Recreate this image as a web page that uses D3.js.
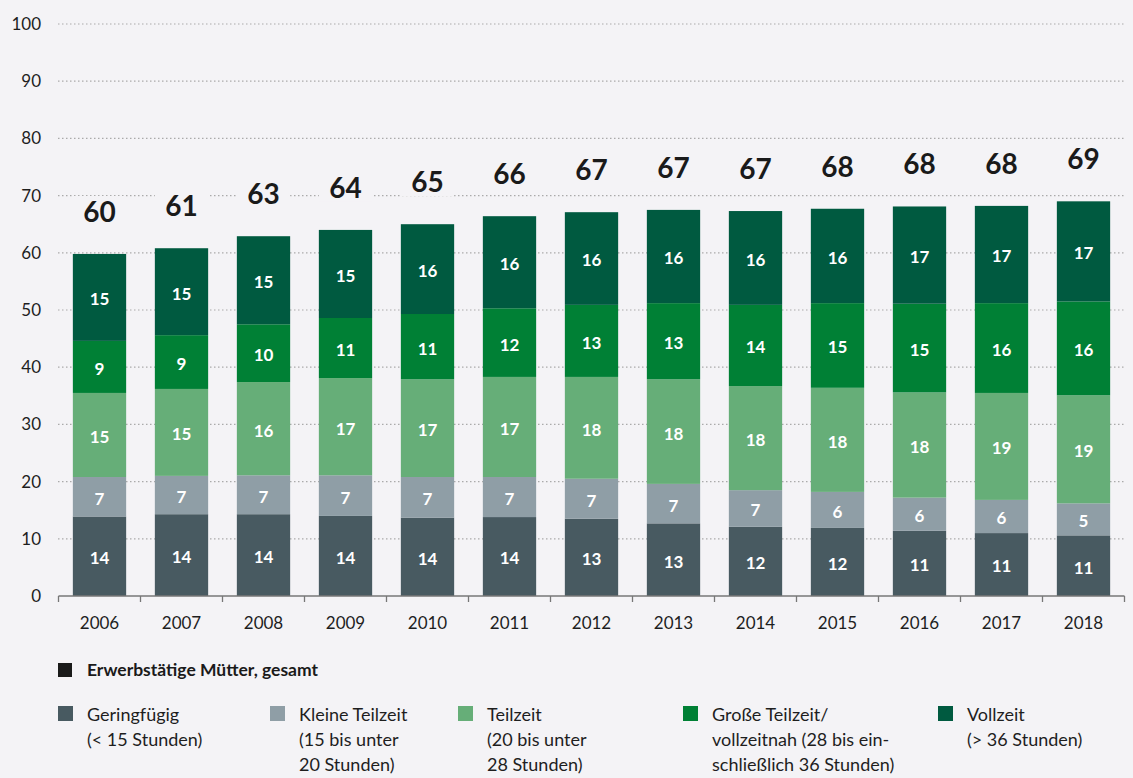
<!DOCTYPE html>
<html>
<head>
<meta charset="utf-8">
<script src="https://cdn.jsdelivr.net/npm/d3@7"></script>
<style>
  body { margin: 0; background: #f4f3f6; }
  svg { display: block; font-family: Lato, "Noto Sans", sans-serif; }
</style>
</head>
<body>
<svg id="chart" width="1133" height="778"></svg>
<script>
var years = ["2006","2007","2008","2009","2010","2011","2012","2013","2014","2015","2016","2017","2018"];

// segment heights
var geringfuegig = [13.9, 14.3, 14.3, 14.0, 13.7, 13.8, 13.5, 12.7, 12.1, 11.9, 11.4, 11.0, 10.6];
var kleineTeilzeit = [6.9, 6.7, 6.8, 7.1, 7.1, 7.0, 7.0, 6.9, 6.4, 6.3, 5.8, 5.8, 5.6];
var teilzeit = [14.7, 15.2, 16.3, 17.0, 17.1, 17.5, 17.8, 18.3, 18.2, 18.2, 18.4, 18.7, 18.9];
var grosseTeilzeit = [9.1, 9.4, 10.1, 10.5, 11.4, 12.0, 12.6, 13.3, 14.2, 14.8, 15.5, 15.7, 16.4];
var vollzeit = [15.2, 15.2, 15.4, 15.4, 15.7, 16.1, 16.2, 16.3, 16.4, 16.5, 17.0, 17.0, 17.5];

// printed labels
var geringfuegigLabels = [14, 14, 14, 14, 14, 14, 13, 13, 12, 12, 11, 11, 11];
var kleineTeilzeitLabels = [7, 7, 7, 7, 7, 7, 7, 7, 7, 6, 6, 6, 5];
var teilzeitLabels = [15, 15, 16, 17, 17, 17, 18, 18, 18, 18, 18, 19, 19];
var grosseTeilzeitLabels = [9, 9, 10, 11, 11, 12, 13, 13, 14, 15, 15, 16, 16];
var vollzeitLabels = [15, 15, 15, 15, 16, 16, 16, 16, 16, 16, 17, 17, 17];
var totalLabels = [60, 61, 63, 64, 65, 66, 67, 67, 67, 68, 68, 68, 69];

var yTicks = [0, 10, 20, 30, 40, 50, 60, 70, 80, 90, 100];

var series = [
  {name: "Geringfügig", lines: ["Geringfügig", "(< 15 Stunden)"], values: geringfuegig, labels: geringfuegigLabels, color: "#485a61"},
  {name: "Kleine Teilzeit", lines: ["Kleine Teilzeit", "(15 bis unter", "20 Stunden)"], values: kleineTeilzeit, labels: kleineTeilzeitLabels, color: "#8f9ea6"},
  {name: "Teilzeit", lines: ["Teilzeit", "(20 bis unter", "28 Stunden)"], values: teilzeit, labels: teilzeitLabels, color: "#66ae78"},
  {name: "Große Teilzeit", lines: ["Große Teilzeit/", "vollzeitnah (28 bis ein-", "schließlich 36 Stunden)"], values: grosseTeilzeit, labels: grosseTeilzeitLabels, color: "#008035"},
  {name: "Vollzeit", lines: ["Vollzeit", "(> 36 Stunden)"], values: vollzeit, labels: vollzeitLabels, color: "#005a40"}
];

var table = years.map(function(yr, i) {
  var row = {year: yr};
  series.forEach(function(s) { row[s.name] = s.values[i]; });
  return row;
});

var svg = d3.select("#chart");

var x = d3.scaleBand()
  .domain(years)
  .range([58.5, 1124.5])
  .paddingInner(0.35)
  .paddingOuter(0.175);

var y = d3.scaleLinear()
  .domain([0, 100])
  .range([596, 24]);

// gridlines
svg.append("g").selectAll("line")
  .data(yTicks.filter(function(t) { return t > 0; }))
  .enter().append("line")
  .attr("x1", 58).attr("x2", 1125)
  .attr("y1", function(d) { return y(d); })
  .attr("y2", function(d) { return y(d); })
  .attr("stroke", "#aaaaaa")
  .attr("stroke-width", 1.2)
  .attr("stroke-dasharray", "1.5,2.5");

// y tick labels
svg.append("g").selectAll("text")
  .data(yTicks)
  .enter().append("text")
  .attr("x", 41)
  .attr("y", function(d) { return y(d); })
  .attr("dy", "0.35em")
  .attr("text-anchor", "end")
  .attr("font-size", 17)
  .attr("fill", "#1e1e1e")
  .text(function(d) { return d; });

var stack = d3.stack().keys(series.map(function(s) { return s.name; }));
var stacked = stack(table);

// label backdrops (cut the gridlines behind total labels)
svg.append("g").selectAll("rect")
  .data(stacked[stacked.length - 1])
  .enter().append("rect")
  .attr("x", function(d) { return x(d.data.year); })
  .attr("width", x.bandwidth())
  .attr("y", function(d) { return y(d[1]) - 58; })
  .attr("height", 30)
  .attr("fill", "#f4f3f6");

var layers = svg.append("g").selectAll("g")
  .data(stacked)
  .enter().append("g")
  .attr("fill", function(d, i) { return series[i].color; });

layers.selectAll("rect")
  .data(function(d) { return d; })
  .enter().append("rect")
  .attr("x", function(d) { return x(d.data.year); })
  .attr("width", x.bandwidth())
  .attr("y", function(d) { return y(d[1]); })
  .attr("height", function(d) { return y(d[0]) - y(d[1]); });

// segment labels
stacked.forEach(function(layer, si) {
  svg.append("g").selectAll("text")
    .data(layer)
    .enter().append("text")
    .attr("x", function(d) { return x(d.data.year) + x.bandwidth() / 2; })
    .attr("y", function(d) { return (y(d[0]) + y(d[1])) / 2 + 2; })
    .attr("dy", "0.35em")
    .attr("text-anchor", "middle")
    .attr("font-size", 17)
    .attr("font-weight", "bold")
    .attr("fill", "#ffffff")
    .text(function(d, i) { return series[si].labels[i]; });
});

// totals
svg.append("g").selectAll("text")
  .data(stacked[stacked.length - 1])
  .enter().append("text")
  .attr("x", function(d) { return x(d.data.year) + x.bandwidth() / 2; })
  .attr("y", function(d) { return y(d[1]) - 42; })
  .attr("dy", "0.35em")
  .attr("text-anchor", "middle")
  .attr("font-size", 28)
  .attr("font-weight", "bold")
  .attr("fill", "#1a1a1a")
  .text(function(d, i) { return totalLabels[i]; });

// x axis
var xAxis = svg.append("g").attr("transform", "translate(0,596)");
xAxis.append("line")
  .attr("x1", 58.5).attr("x2", 1124.5)
  .attr("stroke", "#777777").attr("stroke-width", 1.3);
var bounds = years.map(function(yr) { return x(yr) - x.step() * x.paddingInner() / 2; });
bounds.push(x(years[years.length - 1]) + x.bandwidth() + x.step() * x.paddingInner() / 2);
xAxis.selectAll(".tick")
  .data(bounds)
  .enter().append("line")
  .attr("x1", function(d) { return d; })
  .attr("x2", function(d) { return d; })
  .attr("y1", 0).attr("y2", 6)
  .attr("stroke", "#777777").attr("stroke-width", 1.3);
xAxis.selectAll("text")
  .data(years)
  .enter().append("text")
  .attr("x", function(d) { return x(d) + x.bandwidth() / 2; })
  .attr("y", 27)
  .attr("dy", "0.35em")
  .attr("text-anchor", "middle")
  .attr("font-size", 17)
  .attr("fill", "#1e1e1e")
  .text(function(d) { return d; });

// legend
var legend = svg.append("g");
legend.append("rect")
  .attr("x", 58).attr("y", 663).attr("width", 14).attr("height", 14)
  .attr("fill", "#1a1a1a");
legend.append("text")
  .attr("x", 87).attr("y", 670).attr("dy", "0.35em")
  .attr("font-size", 17.5).attr("font-weight", "bold").attr("fill", "#1a1a1a")
  .text("Erwerbstätige Mütter, gesamt");

var legendX = [58, 270, 458, 683, 938];
var items = legend.selectAll(".item")
  .data(series)
  .enter().append("g")
  .attr("transform", function(d, i) { return "translate(" + legendX[i] + ",0)"; });
items.append("rect")
  .attr("x", 0).attr("y", 706).attr("width", 15).attr("height", 15)
  .attr("fill", function(d) { return d.color; });
items.each(function(d) {
  var t = d3.select(this).append("text")
    .attr("font-size", 18).attr("fill", "#1e1e1e");
  d.lines.forEach(function(line, li) {
    t.append("tspan")
      .attr("x", 29)
      .attr("y", 715 + li * 25)
      .attr("dy", "0.35em")
      .text(line);
  });
});
</script>
</body>
</html>
